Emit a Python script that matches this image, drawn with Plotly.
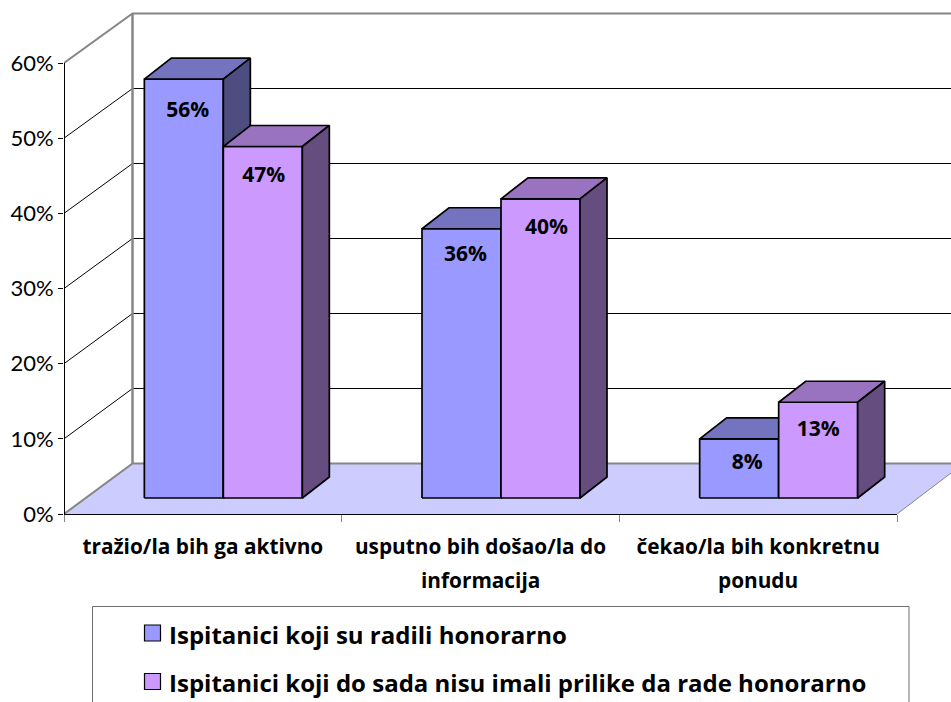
import plotly.graph_objects as go

# ---- data ----
CATEGORIES = ["tražio/la bih ga aktivno", "usputno bih došao/la do", "čekao/la bih konkretnu"]
SECOND_LINES = ["", "informacija", "ponudu"]
SERIES_NAMES = ["Ispitanici koji su radili honorarno",
                "Ispitanici koji do sada nisu imali prilike da rade honorarno"]
WORKED = [56.0, 36.0, 7.9]
NOT_WORKED = [47.0, 40.0, 12.8]
LABELS_WORKED = ["56%", "36%", "8%"]
LABELS_NOT_WORKED = ["47%", "40%", "13%"]
Y_TICKS = [0, 10, 20, 30, 40, 50, 60]
Y_TICK_TEXT = ["0%", "10%", "20%", "30%", "40%", "50%", "60%"]

# ---- geometry (pixels of the page -> axis units) ----
W, H = 951, 702
L, T, B = 64, 5, 188
PX_X = 277.67          # px per category
PX_Y = (514 - 63) / 60 # px per percent
xu = lambda px: px / PX_X
yu = lambda px: px / PX_Y
X0 = -0.5
XMAX = X0 + xu(W - L)
XEND = 2.5
YMAX = yu(514 - T)
DX, DY = xu(68.5), yu(50.5)      # full chart depth
BAR_SHIFT_X, BAR_SHIFT_Y = xu(20.5), yu(16)
BAR_DEPTH_X, BAR_DEPTH_Y = xu(27), yu(21)
BAR_W = xu(79)
SCALE = 0.995
WALL_SCALE = 7.5 / PX_Y
FONT = "Lato"
BOLD_FONT = "Open Sans"

BLUE = ("#9999FF", "#7373BF", "#4D4D80")
PURPLE = ("#CC99FF", "#9973BF", "#664D80")
FLOOR = "#CCCCFF"
GRAY = "#868686"


def poly(xs, ys, fill=None, color="black", width=1.0, mode="lines"):
    tr = dict(x=xs, y=ys, mode=mode, line=dict(color=color, width=width),
              hoverinfo="skip", showlegend=False, cliponaxis=False)
    if fill:
        tr.update(fill="toself", fillcolor=fill)
    return go.Scatter(**tr)


fig = go.Figure()

# floor
fig.add_trace(poly([X0, X0 + DX, XMAX, XMAX, XEND, X0],
                   [0, DY, DY, yu(514 - 473), 0, 0], fill=FLOOR, color="rgba(0,0,0,0)", width=0))
fig.add_trace(poly([X0, X0 + DX, XMAX], [0, DY, DY], color=GRAY, width=2))
# right floor edge
fig.add_trace(poly([XEND, XMAX], [0, yu(514 - 473)], color=GRAY, width=1))

# wall gridlines
for v in Y_TICKS[1:-1]:
    fig.add_trace(poly([X0, X0 + DX, XMAX], [v, v * WALL_SCALE + DY, v * WALL_SCALE + DY], width=1))
# top & back edges
top = 60 * WALL_SCALE + DY
fig.add_trace(poly([X0, X0 + DX, XMAX], [60, top, top], color=GRAY, width=2))
fig.add_trace(poly([X0 + DX, X0 + DX], [DY, top], color=GRAY, width=2.5))


def bar(cat, side, value, colors):
    x1 = cat + BAR_SHIFT_X + (-BAR_W if side == 0 else 0)
    x2 = x1 + BAR_W
    b1 = BAR_SHIFT_Y
    t1 = b1 + value * SCALE
    ox, oy = BAR_DEPTH_X, BAR_DEPTH_Y
    faces = [
        ([x1, x2, x2, x1, x1], [b1, b1, t1, t1, b1], colors[0]),
        ([x1, x2, x2 + ox, x1 + ox, x1], [t1, t1, t1 + oy, t1 + oy, t1], colors[1]),
        ([x2, x2 + ox, x2 + ox, x2, x2], [b1, b1 + oy, t1 + oy, t1, b1], colors[2]),
    ]
    for xs, ys, c in faces:
        fig.add_trace(poly(xs, ys, fill=c, width=1.7))
    return (x1 + x2) / 2, t1


label_x, label_y, label_t = [], [], []
NUDGE_W = [(4, 33), (4, 27), (8, 25)]
NUDGE_N = [(1, 30), (6, 30), (0, 28)]
for i in range(len(CATEGORIES)):
    cx, ty = bar(i, 0, WORKED[i], BLUE)
    label_x.append(cx + xu(NUDGE_W[i][0])); label_y.append(ty - yu(NUDGE_W[i][1])); label_t.append(LABELS_WORKED[i])
    cx, ty = bar(i, 1, NOT_WORKED[i], PURPLE)
    label_x.append(cx + xu(NUDGE_N[i][0])); label_y.append(ty - yu(NUDGE_N[i][1])); label_t.append(LABELS_NOT_WORKED[i])

fig.add_trace(go.Scatter(x=label_x, y=label_y, text=[f"<b>{t}</b>" for t in label_t], mode="text",
                         textfont=dict(family=BOLD_FONT, size=21, color="black"),
                         hoverinfo="skip", showlegend=False, cliponaxis=False))

# ---- legend and front axes drawn in page coordinates ----
px = lambda v: (v - L) / (W - L)
py = lambda v: (514 - v) / (514 - T)
shapes = [
    dict(type="path", xref="paper", yref="paper",
         path=f"M {px(92.5)} {py(H + 3)} L {px(92.5)} {py(606.5)} L {px(909)} {py(606.5)} L {px(909)} {py(H + 3)}",
         line=dict(color="#6E6E6E", width=1)),
    dict(type="line", xref="paper", yref="paper", x0=px(64.5), x1=px(64.5), y0=py(63), y1=py(514.5),
         line=dict(color="black", width=1)),
    dict(type="line", xref="paper", yref="paper", x0=px(64), x1=px(897), y0=py(514.5), y1=py(514.5),
         line=dict(color="black", width=1)),
]
ROWS = [633, 681.5]
annotations = []
for row, name, col in zip(ROWS, SERIES_NAMES, (BLUE[0], PURPLE[0])):
    shapes.append(dict(type="rect", xref="paper", yref="paper",
                       x0=px(144.5), x1=px(160.5), y0=py(row - 8), y1=py(row + 8),
                       fillcolor=col, line=dict(color="black", width=1.2)))
    annotations.append(dict(text=f"<b>{name}</b>", xref="paper", yref="paper", x=px(167), y=py(row + 1),
                            xanchor="left", yanchor="middle", showarrow=False,
                            font=dict(family=BOLD_FONT, size=24, color="black")))
for i, line in enumerate(SECOND_LINES):
    if line:
        annotations.append(dict(text=f"<b>{line}</b>", xref="x", yref="paper", x=i, y=py(580),
                                xanchor="center", yanchor="middle", showarrow=False,
                                font=dict(family=BOLD_FONT, size=20.8, color="black")))

fig.update_layout(
    width=W, height=H, autosize=False,
    margin=dict(l=L, r=0, t=T, b=B, pad=0),
    paper_bgcolor="white", plot_bgcolor="white", showlegend=False,
    shapes=shapes, annotations=annotations,
    xaxis=dict(range=[X0, XMAX], tickmode="array", tickvals=list(range(len(CATEGORIES))),
               ticktext=[f"<b>{c}</b>" for c in CATEGORIES],
               ticks="", showgrid=False, zeroline=False, showline=False, ticklabelstandoff=18,
               tickfont=dict(family=BOLD_FONT, size=20.8, color="black"),
               minor=dict(tickmode="array", tickvals=[-0.5, 0.5, 1.5, 2.5], ticks="outside", ticklen=7,
                          tickcolor=GRAY, tickwidth=1, showgrid=False)),
    yaxis=dict(range=[0, YMAX], tickmode="array", tickvals=Y_TICKS, ticktext=Y_TICK_TEXT,
               ticks="outside", ticklen=5, tickcolor="black", tickwidth=1,
               showgrid=False, zeroline=False, showline=False,
               tickfont=dict(family=FONT, size=22, color="black")),
)

fig.write_html("out.html", config={"displayModeBar": False},
               post_script="document.body.style.margin='0';document.body.style.overflow='hidden';")
